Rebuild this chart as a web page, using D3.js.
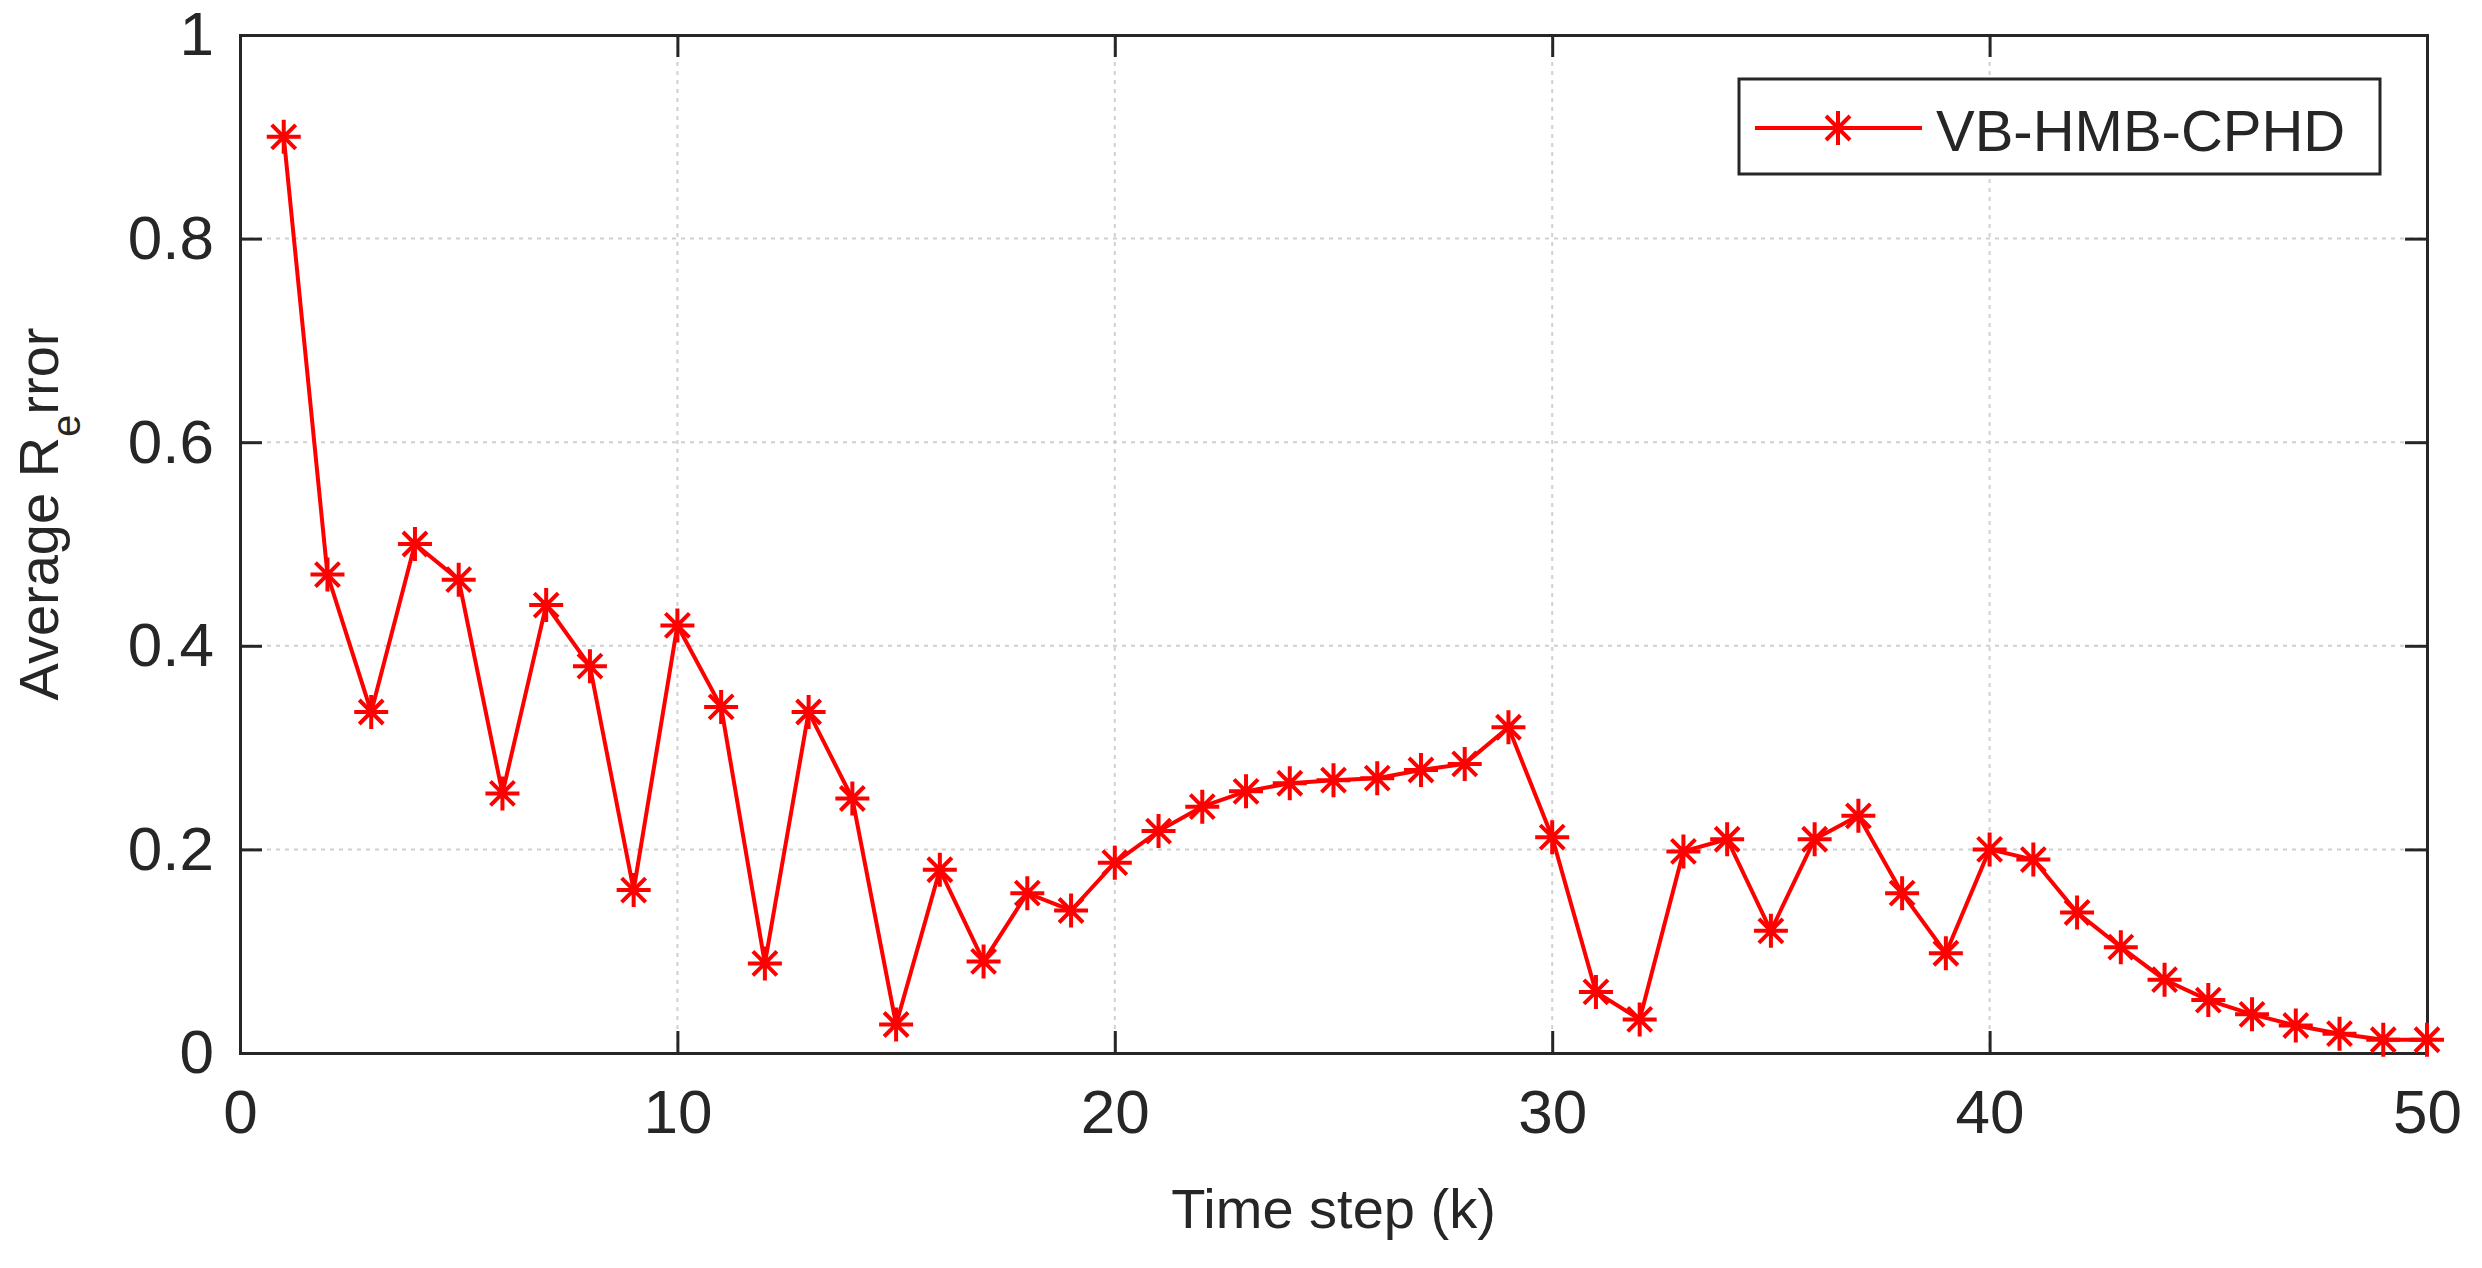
<!DOCTYPE html>
<html>
<head>
<meta charset="utf-8">
<script src="https://cdn.jsdelivr.net/npm/d3@7"></script>
<style>
  body { margin: 0; background: #fff; }
  text { font-family: "Liberation Sans", Arial, sans-serif; fill: #262626; }
</style>
</head>
<body>
<script>
const steps = d3.range(1, 51);
const errors = [
  0.90, 0.47, 0.335, 0.50, 0.465, 0.255, 0.44, 0.38, 0.16, 0.42,
  0.34, 0.088, 0.335, 0.25, 0.028, 0.18, 0.09, 0.157, 0.14, 0.187,
  0.218, 0.242, 0.257, 0.265, 0.268, 0.27, 0.278, 0.284, 0.32, 0.212,
  0.06, 0.033, 0.198, 0.21, 0.12, 0.21, 0.233, 0.157, 0.098, 0.20,
  0.19, 0.138, 0.104, 0.072, 0.052, 0.038, 0.027, 0.019, 0.013, 0.013
];
const xTicks = [0, 10, 20, 30, 40, 50];
const yTicks = [0, 0.2, 0.4, 0.6, 0.8, 1];
const seriesName = "VB-HMB-CPHD";

const width = 2482, height = 1268;
const mLeft = 240, mRight = 2427, mTop = 35, mBottom = 1053;

const svg = d3.select("body").append("svg")
  .attr("width", width).attr("height", height);

const x = d3.scaleLinear().domain([0, 50]).range([mLeft, mRight]);
const y = d3.scaleLinear().domain([0, 1]).range([mBottom, mTop]);

// grid
svg.append("g").selectAll("line").data(xTicks.slice(1, -1)).enter().append("line")
  .attr("x1", d => x(d)).attr("x2", d => x(d)).attr("y1", mTop).attr("y2", mBottom)
  .attr("stroke", "#d0d0d0").attr("stroke-width", 2).attr("stroke-dasharray", "4,5");
svg.append("g").selectAll("line").data(yTicks.slice(1, -1)).enter().append("line")
  .attr("y1", d => y(d)).attr("y2", d => y(d)).attr("x1", mLeft).attr("x2", mRight)
  .attr("stroke", "#d0d0d0").attr("stroke-width", 2).attr("stroke-dasharray", "4,5");

// axes (ticks inward, boxed)
const tickLen = 22;
const axes = [
  { axis: d3.axisBottom(x).tickValues(xTicks).tickSize(-tickLen), t: `translate(0,${mBottom})`, labels: true },
  { axis: d3.axisTop(x).tickValues(xTicks).tickSize(-tickLen), t: `translate(0,${mTop})` },
  { axis: d3.axisLeft(y).tickValues(yTicks).tickSize(-tickLen), t: `translate(${mLeft},0)`, labels: true },
  { axis: d3.axisRight(y).tickValues(yTicks).tickSize(-tickLen), t: `translate(${mRight},0)` }
];
axes.forEach((a, i) => {
  const g = svg.append("g").attr("transform", a.t).call(a.axis.tickFormat(a.labels ? d3.format("") : ""));
  g.selectAll("path").attr("stroke", "#262626").attr("stroke-width", 3);
  g.selectAll(".tick line").attr("stroke", "#262626").attr("stroke-width", 3);
  g.selectAll("text").style("font-size", "62px").attr("fill", "#262626");
  if (i === 0) g.selectAll("text").attr("y", 36);
  if (i === 2) g.selectAll("text").attr("x", -26);
});

// line
svg.append("path")
  .datum(steps.map((s, i) => [s, errors[i]]))
  .attr("fill", "none").attr("stroke", "#ff0000").attr("stroke-width", 4)
  .attr("d", d3.line().x(d => x(d[0])).y(d => y(d[1])));

// asterisk markers
const r = 17, rd = 12;
const star = `M${-r},0L${r},0M0,${-r}L0,${r}M${-rd},${-rd}L${rd},${rd}M${-rd},${rd}L${rd},${-rd}`;
svg.append("g").selectAll("path").data(steps).enter().append("path")
  .attr("transform", (d, i) => `translate(${x(d)},${y(errors[i])})`)
  .attr("d", star).attr("stroke", "#ff0000").attr("stroke-width", 4).attr("fill", "none");

// labels
svg.append("text").attr("x", (mLeft + mRight) / 2).attr("y", 1228)
  .attr("text-anchor", "middle").style("font-size", "56px").text("Time step (k)");
const yl = svg.append("text").attr("transform", `translate(58,${(mTop + mBottom) / 2 - 30}) rotate(-90)`)
  .attr("text-anchor", "middle").style("font-size", "56px");
yl.append("tspan").text("Average R");
yl.append("tspan").attr("baseline-shift", "sub").style("font-size", "40px").text("e");
yl.append("tspan").text("rror");

// legend
const lg = svg.append("g");
lg.append("rect").attr("x", 1739).attr("y", 79).attr("width", 641).attr("height", 95)
  .attr("fill", "#fff").attr("stroke", "#262626").attr("stroke-width", 3);
lg.append("line").attr("x1", 1755).attr("x2", 1922).attr("y1", 128).attr("y2", 128)
  .attr("stroke", "#ff0000").attr("stroke-width", 4);
lg.append("path").attr("transform", "translate(1838,128)").attr("d", star)
  .attr("stroke", "#ff0000").attr("stroke-width", 4);
lg.append("text").attr("x", 1936).attr("y", 151).style("font-size", "58px").attr("fill", "#000").text(seriesName);
</script>
</body>
</html>
